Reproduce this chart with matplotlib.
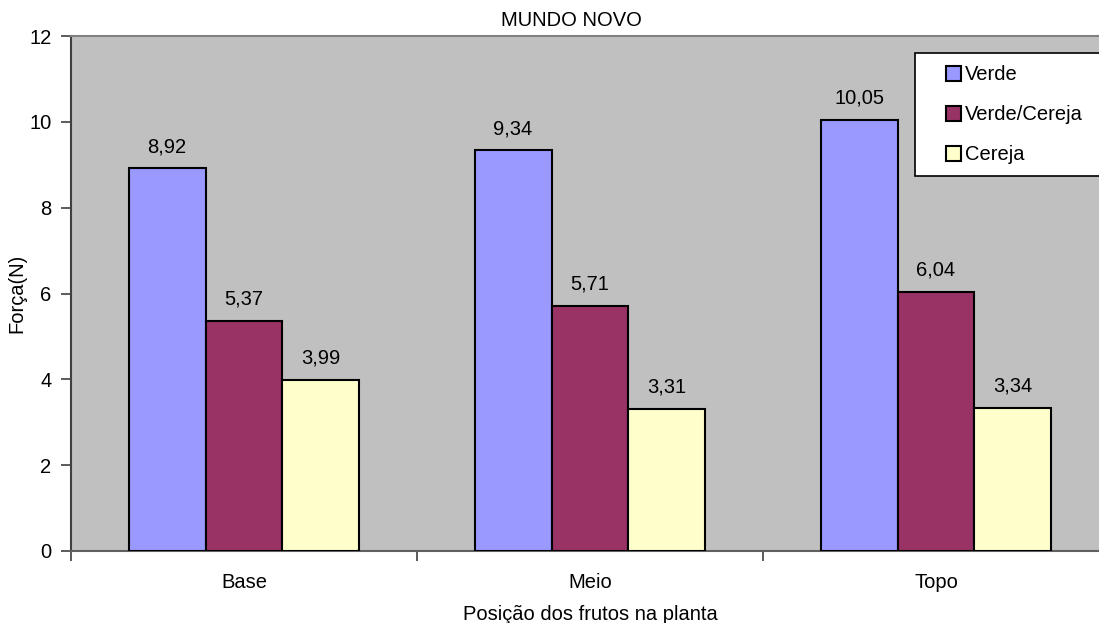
import numpy as np
import matplotlib
matplotlib.use('Agg')
import matplotlib.pyplot as plt
from matplotlib.lines import Line2D

plt.rcParams['font.family'] = ['Liberation Sans', 'DejaVu Sans']

categorias = ['Base', 'Meio', 'Topo']
series = ['Verde', 'Verde/Cereja', 'Cereja']
verde = [8.92, 9.34, 10.05]
verde_cereja = [5.37, 5.71, 6.04]
cereja = [3.99, 3.31, 3.34]
cores = ['#9999FF', '#993366', '#FFFFCC']

W, H = 1099, 623
fig = plt.figure(figsize=(W / 100, H / 100), dpi=100)
ax = fig.add_axes([71 / W, (H - 551) / H, (1109 - 71) / W, (551 - 36) / H])
ax.set_facecolor('#C0C0C0')

fs = 14.5
x = np.arange(len(categorias))
larg = 0.2225
for i, (vals, cor) in enumerate(zip([verde, verde_cereja, cereja], cores)):
    pos = x + (i - 1) * larg
    ax.bar(pos, vals, width=larg, color=cor, edgecolor='black', linewidth=1.5, zorder=3)
    for px, v in zip(pos, vals):
        ax.annotate(f'{v:.2f}'.replace('.', ','), (px, v), xytext=(0, 11.5),
                    textcoords='offset points', ha='center', va='baseline', fontsize=fs)

ax.set_xlim(-0.5, 2.5)
ax.set_ylim(0, 12)
ax.set_yticks(range(0, 13, 2))
ax.set_xticks(x)
ax.set_xticklabels(categorias)
ax.set_xticks([-0.5, 0.5, 1.5, 2.5], minor=True)
ax.tick_params(axis='x', which='major', length=0, pad=16, labelsize=fs)
ax.tick_params(axis='x', which='minor', length=7, width=1.2, color='#404040')
ax.tick_params(axis='y', length=7, width=1.2, color='#404040', pad=7, labelsize=fs)

ax.spines['left'].set_color('#404040')
ax.spines['left'].set_linewidth(1.5)
ax.spines['bottom'].set_color('#606060')
ax.spines['bottom'].set_linewidth(1.5)
ax.spines['top'].set_color('#808080')
ax.spines['top'].set_linewidth(1.5)
ax.spines['right'].set_visible(False)

ax.set_ylabel('Força(N)', fontsize=fs, labelpad=2)
ax.set_xlabel('Posição dos frutos na planta', fontsize=fs, labelpad=9)
fig.text(571 / W, 1 - 20 / H, 'MUNDO NOVO', ha='center', va='center', fontsize=fs)

handles = [Line2D([], [], linestyle='none', marker='s', markersize=10.8,
                  markerfacecolor=c, markeredgecolor='black', markeredgewidth=1.5)
           for c in cores]
leg = ax.legend(handles, series, loc='upper left', mode='expand',
                bbox_to_anchor=(915 / W, 1 - 53 / H - 0.01, (1130 - 915) / W, 0.01),
                bbox_transform=fig.transFigure, fontsize=fs, frameon=True,
                fancybox=False, borderpad=0.6, labelspacing=1.05,
                handlelength=2.55, handletextpad=-0.65, borderaxespad=0)
leg.get_frame().set_edgecolor('black')
leg.get_frame().set_linewidth(1.2)
leg.get_frame().set_facecolor('white')
leg.get_frame().set_alpha(1)

fig.savefig('out.png', dpi=100)
